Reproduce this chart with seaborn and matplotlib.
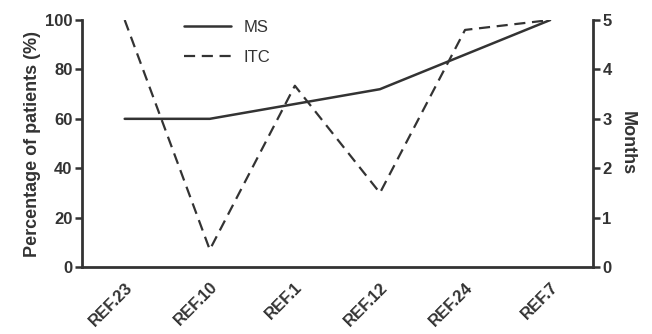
import matplotlib
matplotlib.use("Agg")
import matplotlib.pyplot as plt
import seaborn as sns
import pandas as pd
from matplotlib.lines import Line2D

refs = ["REF.23", "REF.10", "REF.1", "REF.12", "REF.24", "REF.7"]
ms_pct = [60, 60, 66, 72, 86, 100]
itc_months = [5.0, 0.35, 3.67, 1.5, 4.8, 5.0]

sns.set_style("white")
plt.rcParams['font.family'] = ['Liberation Sans', 'DejaVu Sans']

col = "#333333"
df = pd.DataFrame({"ref": refs, "x": range(len(refs)), "ms": ms_pct, "itc": itc_months})

fig = plt.figure(figsize=(6.52, 3.34), dpi=100)
ax = fig.add_axes([0.126, 0.2006, 0.783, 0.7394])
ax2 = ax.twinx()

sns.lineplot(data=df, x="x", y="ms", ax=ax, color=col, lw=1.8)
sns.lineplot(data=df, x="x", y="itc", ax=ax2, color=col, lw=1.6, linestyle=(0, (5, 3)))

ax.set_xlim(-0.5, 5.5)
ax.set_ylim(0, 100)
ax2.set_ylim(0, 5)
ax.set_yticks([0, 20, 40, 60, 80, 100])
ax2.set_yticks([0, 1, 2, 3, 4, 5])
ax.set_xticks(range(len(refs)))
ax.set_xticklabels(refs, rotation=45, ha="right", rotation_mode="anchor",
                   fontsize=10.5, fontweight="bold", color=col)

for a in (ax, ax2):
    for s in a.spines.values():
        s.set_color(col)
        s.set_linewidth(2)
    a.spines["top"].set_visible(False)
    a.tick_params(axis="both", direction="out", length=5, width=1.8, color=col,
                  labelcolor=col, labelsize=12, pad=2)
    for lab in a.get_yticklabels():
        lab.set_fontweight("bold")
ax.spines["right"].set_visible(False)
ax2.spines["left"].set_visible(False)
ax2.spines["bottom"].set_visible(False)
ax.tick_params(axis="x", pad=4)

ax.set_xlabel("")
ax.set_ylabel("Percentage of patients (%)", fontsize=13, fontweight="bold", color=col, labelpad=3)
ax2.set_ylabel("Months", fontsize=13, fontweight="bold", color=col, rotation=270, labelpad=17)

handles = [Line2D([], [], color=col, lw=1.8),
           Line2D([], [], color=col, lw=1.6, linestyle=(0, (5, 3)))]
ax.legend(handles, ["MS", "ITC"], loc="upper left", bbox_to_anchor=(0.17, 1.06),
          frameon=False, fontsize=12, handlelength=2.8, labelspacing=0.9,
          labelcolor=col)

fig.savefig("out.png", dpi=100)
